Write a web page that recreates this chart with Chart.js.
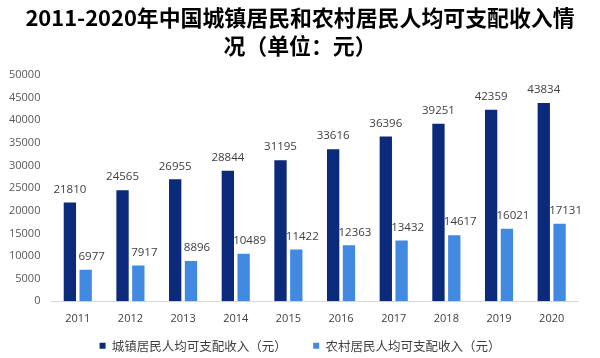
<!DOCTYPE html>
<html>
<head>
<meta charset="utf-8">
<script src="https://cdn.jsdelivr.net/npm/chart.js@4/dist/chart.umd.min.js"></script>
<style>
  html, body { margin: 0; padding: 0; background: #fff; }
  #wrap { width: 600px; height: 358px; }
</style>
</head>
<body>
<div id="wrap"><canvas id="chart" width="600" height="358"></canvas></div>
<script>
// chart data
const years = ['2011', '2012', '2013', '2014', '2015', '2016', '2017', '2018', '2019', '2020'];
const urbanIncome = [21810, 24565, 26955, 28844, 31195, 33616, 36396, 39251, 42359, 43834];
const ruralIncome = [6977, 7917, 8896, 10489, 11422, 12363, 13432, 14617, 16021, 17131];
const yTicks = [0, 5000, 10000, 15000, 20000, 25000, 30000, 35000, 40000, 45000, 50000];

const titleLines = ['2011-2020年中国城镇居民和农村居民人均可支配收入情', '况（单位：元）'];
const seriesNames = ['城镇居民人均可支配收入（元）', '农村居民人均可支配收入（元）'];

const fontCJK = '"Noto Sans CJK SC", "Noto Sans", sans-serif';
const fontNum = '"Open Sans", "DejaVu Sans", sans-serif';

// draws the value above every bar (rural labels sit a bit to the right, like the original)
const valueLabels = {
    id: 'valueLabels',
    afterDatasetsDraw(chart) {
        const ctx = chart.ctx;
        ctx.save();
        ctx.font = '11.5px ' + fontNum;
        ctx.fillStyle = '#404040';
        ctx.textAlign = 'center';
        ctx.textBaseline = 'middle';
        chart.data.datasets.forEach(function(ds, i) {
            const meta = chart.getDatasetMeta(i);
            const dx = i === 1 ? 6 : 0;
            meta.data.forEach(function(bar, j) {
                ctx.fillText(ds.data[j], bar.x + dx, bar.y - 13);
            });
        });
        ctx.restore();
    }
};

// title and legend are centred on the whole canvas, not on the padded box
const recenter = {
    id: 'recenter',
    afterLayout(chart) {
        [chart.titleBlock, chart.legend].forEach(function(box) {
            if (!box) return;
            box.left += 12;
            box.right += 12;
        });
    }
};

new Chart(document.getElementById('chart'), {
    type: 'bar',
    data: {
        labels: years,
        datasets: [{
            label: seriesNames[0],
            data: urbanIncome,
            backgroundColor: '#0b2a7c',
            categoryPercentage: 0.6,
            barPercentage: 0.78
        }, {
            label: seriesNames[1],
            data: ruralIncome,
            backgroundColor: '#4289e2',
            categoryPercentage: 0.6,
            barPercentage: 0.78
        }]
    },
    options: {
        responsive: false,
        animation: false,
        layout: {
            padding: { left: -2, right: 22, top: 0, bottom: -4 }
        },
        scales: {
            y: {
                min: 0,
                max: 50000,
                afterBuildTicks: function(axis) {
                    axis.ticks = yTicks.map(v => ({ value: v }));
                },
                ticks: {
                    color: '#595959',
                    font: { size: 11, family: fontNum },
                    padding: 11,
                    callback: function(v) { return String(v); }
                },
                grid: { display: false, drawTicks: false },
                border: { display: false }
            },
            x: {
                ticks: {
                    color: '#404040',
                    font: { size: 11, family: fontNum },
                    padding: 3
                },
                grid: { display: false },
                border: { color: '#d9d9d9' },
                // extra room under the year labels, before the legend
                afterFit: function(axis) { axis.height += 9; }
            }
        },
        plugins: {
            title: {
                display: true,
                text: titleLines,
                color: '#000',
                font: { size: 21.9, weight: 'bold', family: fontCJK, lineHeight: 1.28 },
                padding: { top: 4, bottom: 15 }
            },
            legend: {
                position: 'bottom',
                labels: {
                    boxWidth: 6,
                    boxHeight: 6,
                    padding: 2,
                    color: '#404040',
                    font: { size: 12.5, family: fontCJK },
                    generateLabels: function(chart) {
                        const items = Chart.defaults.plugins.legend.labels.generateLabels(chart);
                        // wider gap between the two entries
                        items[0].text = items[0].text + '　　  ';
                        items.forEach(function(it) { it.lineWidth = 0; });
                        return items;
                    }
                }
            },
            tooltip: { enabled: false }
        }
    },
    plugins: [valueLabels, recenter]
});
</script>
</body>
</html>
